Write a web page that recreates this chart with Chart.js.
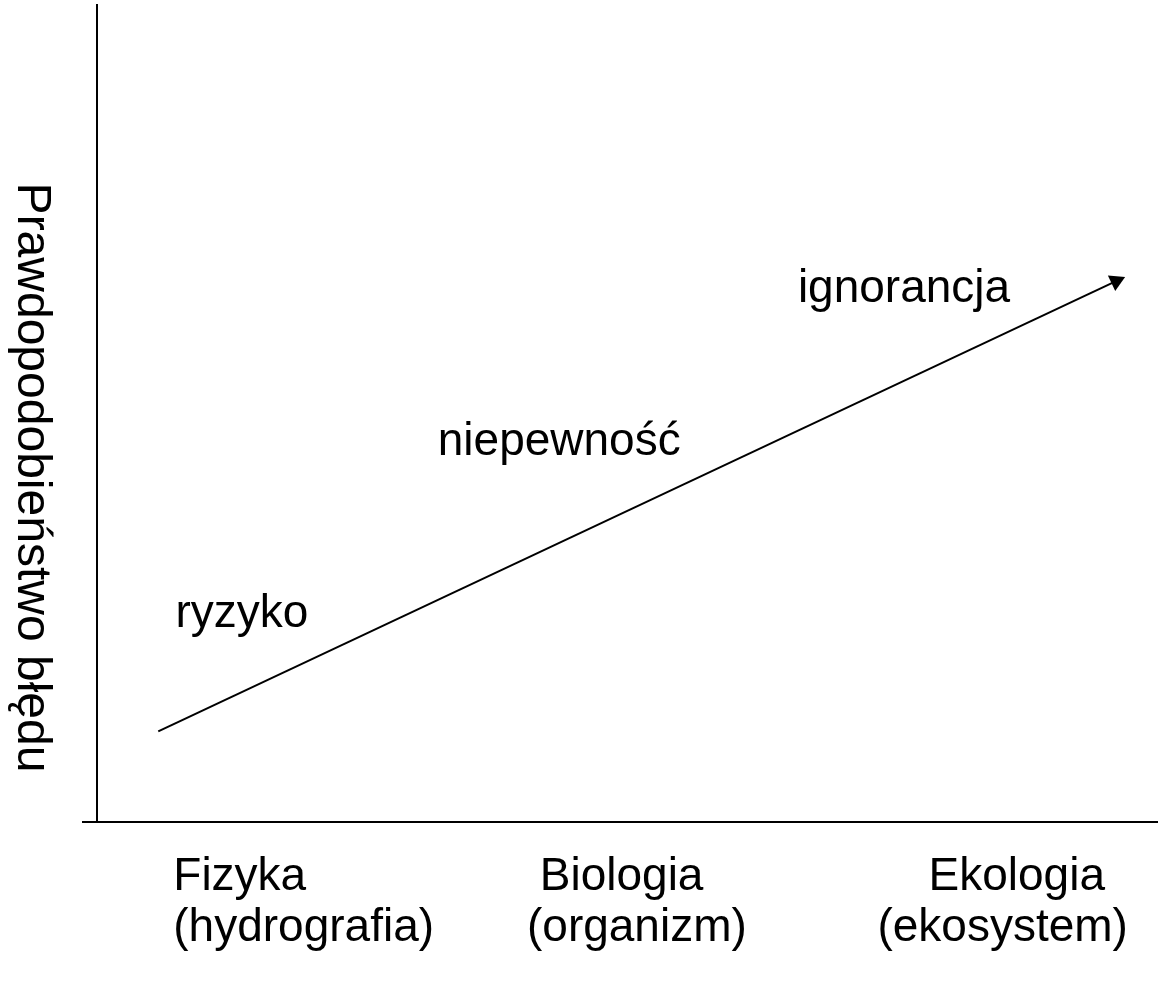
<!DOCTYPE html>
<html lang="pl">
<head>
<meta charset="utf-8">
<title>Prawdopodobieństwo błędu</title>
<script src="https://cdn.jsdelivr.net/npm/chart.js@4/dist/chart.umd.min.js"></script>
<style>
  html, body { margin: 0; padding: 0; background: #fff; }
</style>
</head>
<body>
<canvas id="chart" width="1158" height="981"></canvas>
<script>
// categories on the x axis (two lines each)
const categories = [
  ['Fizyka', '(hydrografia)'],
  [' Biologia', '(organizm)'],
  ['    Ekologia', '(ekosystem)']
];
const categoryX = [8.4, 41.3, 73.9];

// arrow start / end
const arrowX = [7.0, 96.1];
const arrowY = [11.1, 66.2];

// words along the arrow
const zoneLabels = ['ryzyko', 'niepewność', 'ignorancja'];
const zoneX = [8.6, 33.0, 66.5];
const zoneY = [23.9, 44.9, 63.6];

// where the y axis crosses the x axis
const yAxisAt = 1.3;
const yTitle = 'Prawdopodobieństwo błędu';

const FAMILY = '"Liberation Sans", Arial, sans-serif';
const FONT = '46px ' + FAMILY;

// draws the zone words and the y title
const textPlugin = {
  id: 'texts',
  afterDraw(chart) {
    const { ctx, chartArea } = chart;
    const { x, y } = chart.scales;
    ctx.save();
    ctx.fillStyle = '#000';
    ctx.font = FONT;
    ctx.textAlign = 'left';
    ctx.textBaseline = 'alphabetic';
    zoneLabels.forEach((t, i) => {
      ctx.fillText(t, x.getPixelForValue(zoneX[i]), y.getPixelForValue(zoneY[i]));
    });
    // y title reads top to bottom
    ctx.font = '48px ' + FAMILY;
    ctx.translate(18, (chartArea.top + chartArea.bottom) / 2 + 64);
    ctx.rotate(Math.PI / 2);
    ctx.textAlign = 'center';
    ctx.fillText(yTitle, 0, 0);
    ctx.restore();
  }
};

new Chart(document.getElementById('chart'), {
  type: 'line',
  data: {
    datasets: [{
      data: arrowX.map((v, i) => ({ x: v, y: arrowY[i] })),
      borderColor: '#000',
      borderWidth: 2,
      pointStyle: 'triangle',
      pointRadius: [0, 10],
      pointBackgroundColor: '#000',
      pointBorderColor: '#000',
      pointBorderWidth: 0,
      pointRotation: (c) => {
        const { x, y } = c.chart.scales;
        const dx = x.getPixelForValue(arrowX[1]) - x.getPixelForValue(arrowX[0]);
        const dy = y.getPixelForValue(arrowY[1]) - y.getPixelForValue(arrowY[0]);
        return 90 + Math.atan2(dy, dx) * 180 / Math.PI;
      }
    }]
  },
  options: {
    responsive: false,
    animation: false,
    events: [],
    layout: { autoPadding: false, padding: { left: 83, right: 0, top: 5, bottom: 0 } },
    plugins: { legend: { display: false }, tooltip: { enabled: false } },
    scales: {
      x: {
        type: 'linear',
        min: 0,
        max: 100,
        position: 'bottom',
        grid: { display: false, drawTicks: false },
        border: { display: true, color: '#000', width: 2 },
        afterBuildTicks: (s) => { s.ticks = categoryX.map(v => ({ value: v })); },
        afterFit: (s) => { s.height = 159; },
        ticks: {
          autoSkip: false,
          maxRotation: 0,
          align: 'start',
          padding: 30,
          color: '#000',
          font: { family: FAMILY, size: 46, lineHeight: 1.1 },
          callback: (v, i) => categories[i]
        }
      },
      y: {
        type: 'linear',
        min: 0,
        max: 100,
        position: { x: yAxisAt },
        grid: { display: false, drawTicks: false },
        border: { display: true, color: '#000', width: 2 },
        ticks: { display: false }
      }
    }
  },
  plugins: [textPlugin]
});
</script>
</body>
</html>
